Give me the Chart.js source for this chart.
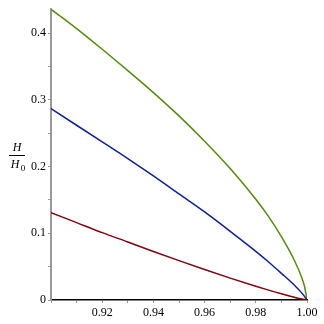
<!DOCTYPE html>
<html>
<head>
<meta charset="utf-8">
<script src="https://cdn.jsdelivr.net/npm/chart.js@4"></script>
<style>
  html, body { margin: 0; padding: 0; background: #fff; }
  #wrap { width: 324px; height: 324px; }
</style>
</head>
<body>
<div id="wrap"><canvas id="myChart" width="324" height="324"></canvas></div>
<script>
// valores
var xs = [0.90, 0.91, 0.92, 0.93, 0.94, 0.95, 0.96, 0.97, 0.98, 0.985, 0.99, 0.995, 0.998, 0.999, 1.00];
var greenVals = [0.436, 0.407, 0.376, 0.344, 0.311, 0.276, 0.238, 0.197, 0.151, 0.125, 0.095, 0.060, 0.033, 0.021, 0];
var blueVals  = [0.287, 0.262, 0.237, 0.212, 0.186, 0.159, 0.132, 0.103, 0.073, 0.057, 0.040, 0.0225, 0.0103, 0.0055, 0];
var redVals   = [0.131, 0.116, 0.101, 0.087, 0.0728, 0.059, 0.0457, 0.0328, 0.0206, 0.0148, 0.0093, 0.0042, 0.0015, 0.0007, 0];
var xLabels = ['0.92', '0.94', '0.96', '0.98', '1.00'];
var yLabels = ['0', '0.1', '0.2', '0.3', '0.4'];

function toPts(vals) {
    return xs.map(function(x, i) { return { x: x, y: vals[i] }; });
}

// rótulo H/H0 em forma de fração
var fracLabel = {
    id: 'fracLabel',
    afterDraw: function(chart) {
        var ctx = chart.ctx;
        ctx.save();
        ctx.fillStyle = '#000';
        ctx.font = 'italic 12px "Liberation Serif"';
        ctx.textAlign = 'center';
        ctx.fillText('H', 17, 151);
        ctx.fillRect(9, 155, 16, 1);
        ctx.fillText('H', 15, 168);
        ctx.font = '9px "Liberation Serif"';
        ctx.fillText('0', 23, 171);
        ctx.restore();
    }
};

new Chart(document.getElementById('myChart').getContext('2d'), {
    type: 'line',
    data: {
        datasets: [
            { data: toPts(redVals), borderColor: '#800010', borderWidth: 1.5, pointRadius: 0, cubicInterpolationMode: 'monotone' },
            { data: toPts(blueVals), borderColor: '#102090', borderWidth: 1.5, pointRadius: 0, cubicInterpolationMode: 'monotone' },
            { data: toPts(greenVals), borderColor: '#548a10', borderWidth: 1.5, pointRadius: 0, cubicInterpolationMode: 'monotone' }
        ]
    },
    options: {
        responsive: false,
        animation: false,
        layout: { padding: { top: 6, right: 17, left: 0, bottom: 0 } },
        plugins: { legend: { display: false }, tooltip: { enabled: false } },
        scales: {
            x: {
                type: 'linear',
                min: 0.9,
                max: 1.0,
                afterFit: function(s) { s.height = 24; },
                afterBuildTicks: function(s) {
                    var t = [];
                    for (var i = 0; i <= 10; i++) t.push({ value: 0.9 + i * 0.01 });
                    s.ticks = t;
                },
                ticks: {
                    autoSkip: false,
                    maxRotation: 0,
                    padding: 3,
                    color: '#000',
                    font: { family: '"Liberation Serif"', size: 12 },
                    callback: function(v) {
                        var s = v.toFixed(2);
                        return xLabels.indexOf(s) >= 0 ? s : '';
                    }
                },
                grid: { drawOnChartArea: false, tickLength: 3, color: '#999' },
                border: { color: '#000', width: 1.5 }
            },
            y: {
                min: 0,
                max: 0.436,
                afterFit: function(s) { s.width = 51; },
                afterBuildTicks: function(s) {
                    var t = [];
                    for (var i = 0; i <= 8; i++) t.push({ value: i * 0.05 });
                    s.ticks = t;
                },
                ticks: {
                    autoSkip: false,
                    padding: 2,
                    color: '#000',
                    font: { family: '"Liberation Serif"', size: 12 },
                    callback: function(v) {
                        var s = String(Math.round(v * 100) / 100);
                        return yLabels.indexOf(s) >= 0 ? s : '';
                    }
                },
                grid: { drawOnChartArea: false, tickLength: 3, color: '#999' },
                border: { color: '#999', width: 2 }
            }
        }
    },
    plugins: [fracLabel]
});
</script>
</body>
</html>
